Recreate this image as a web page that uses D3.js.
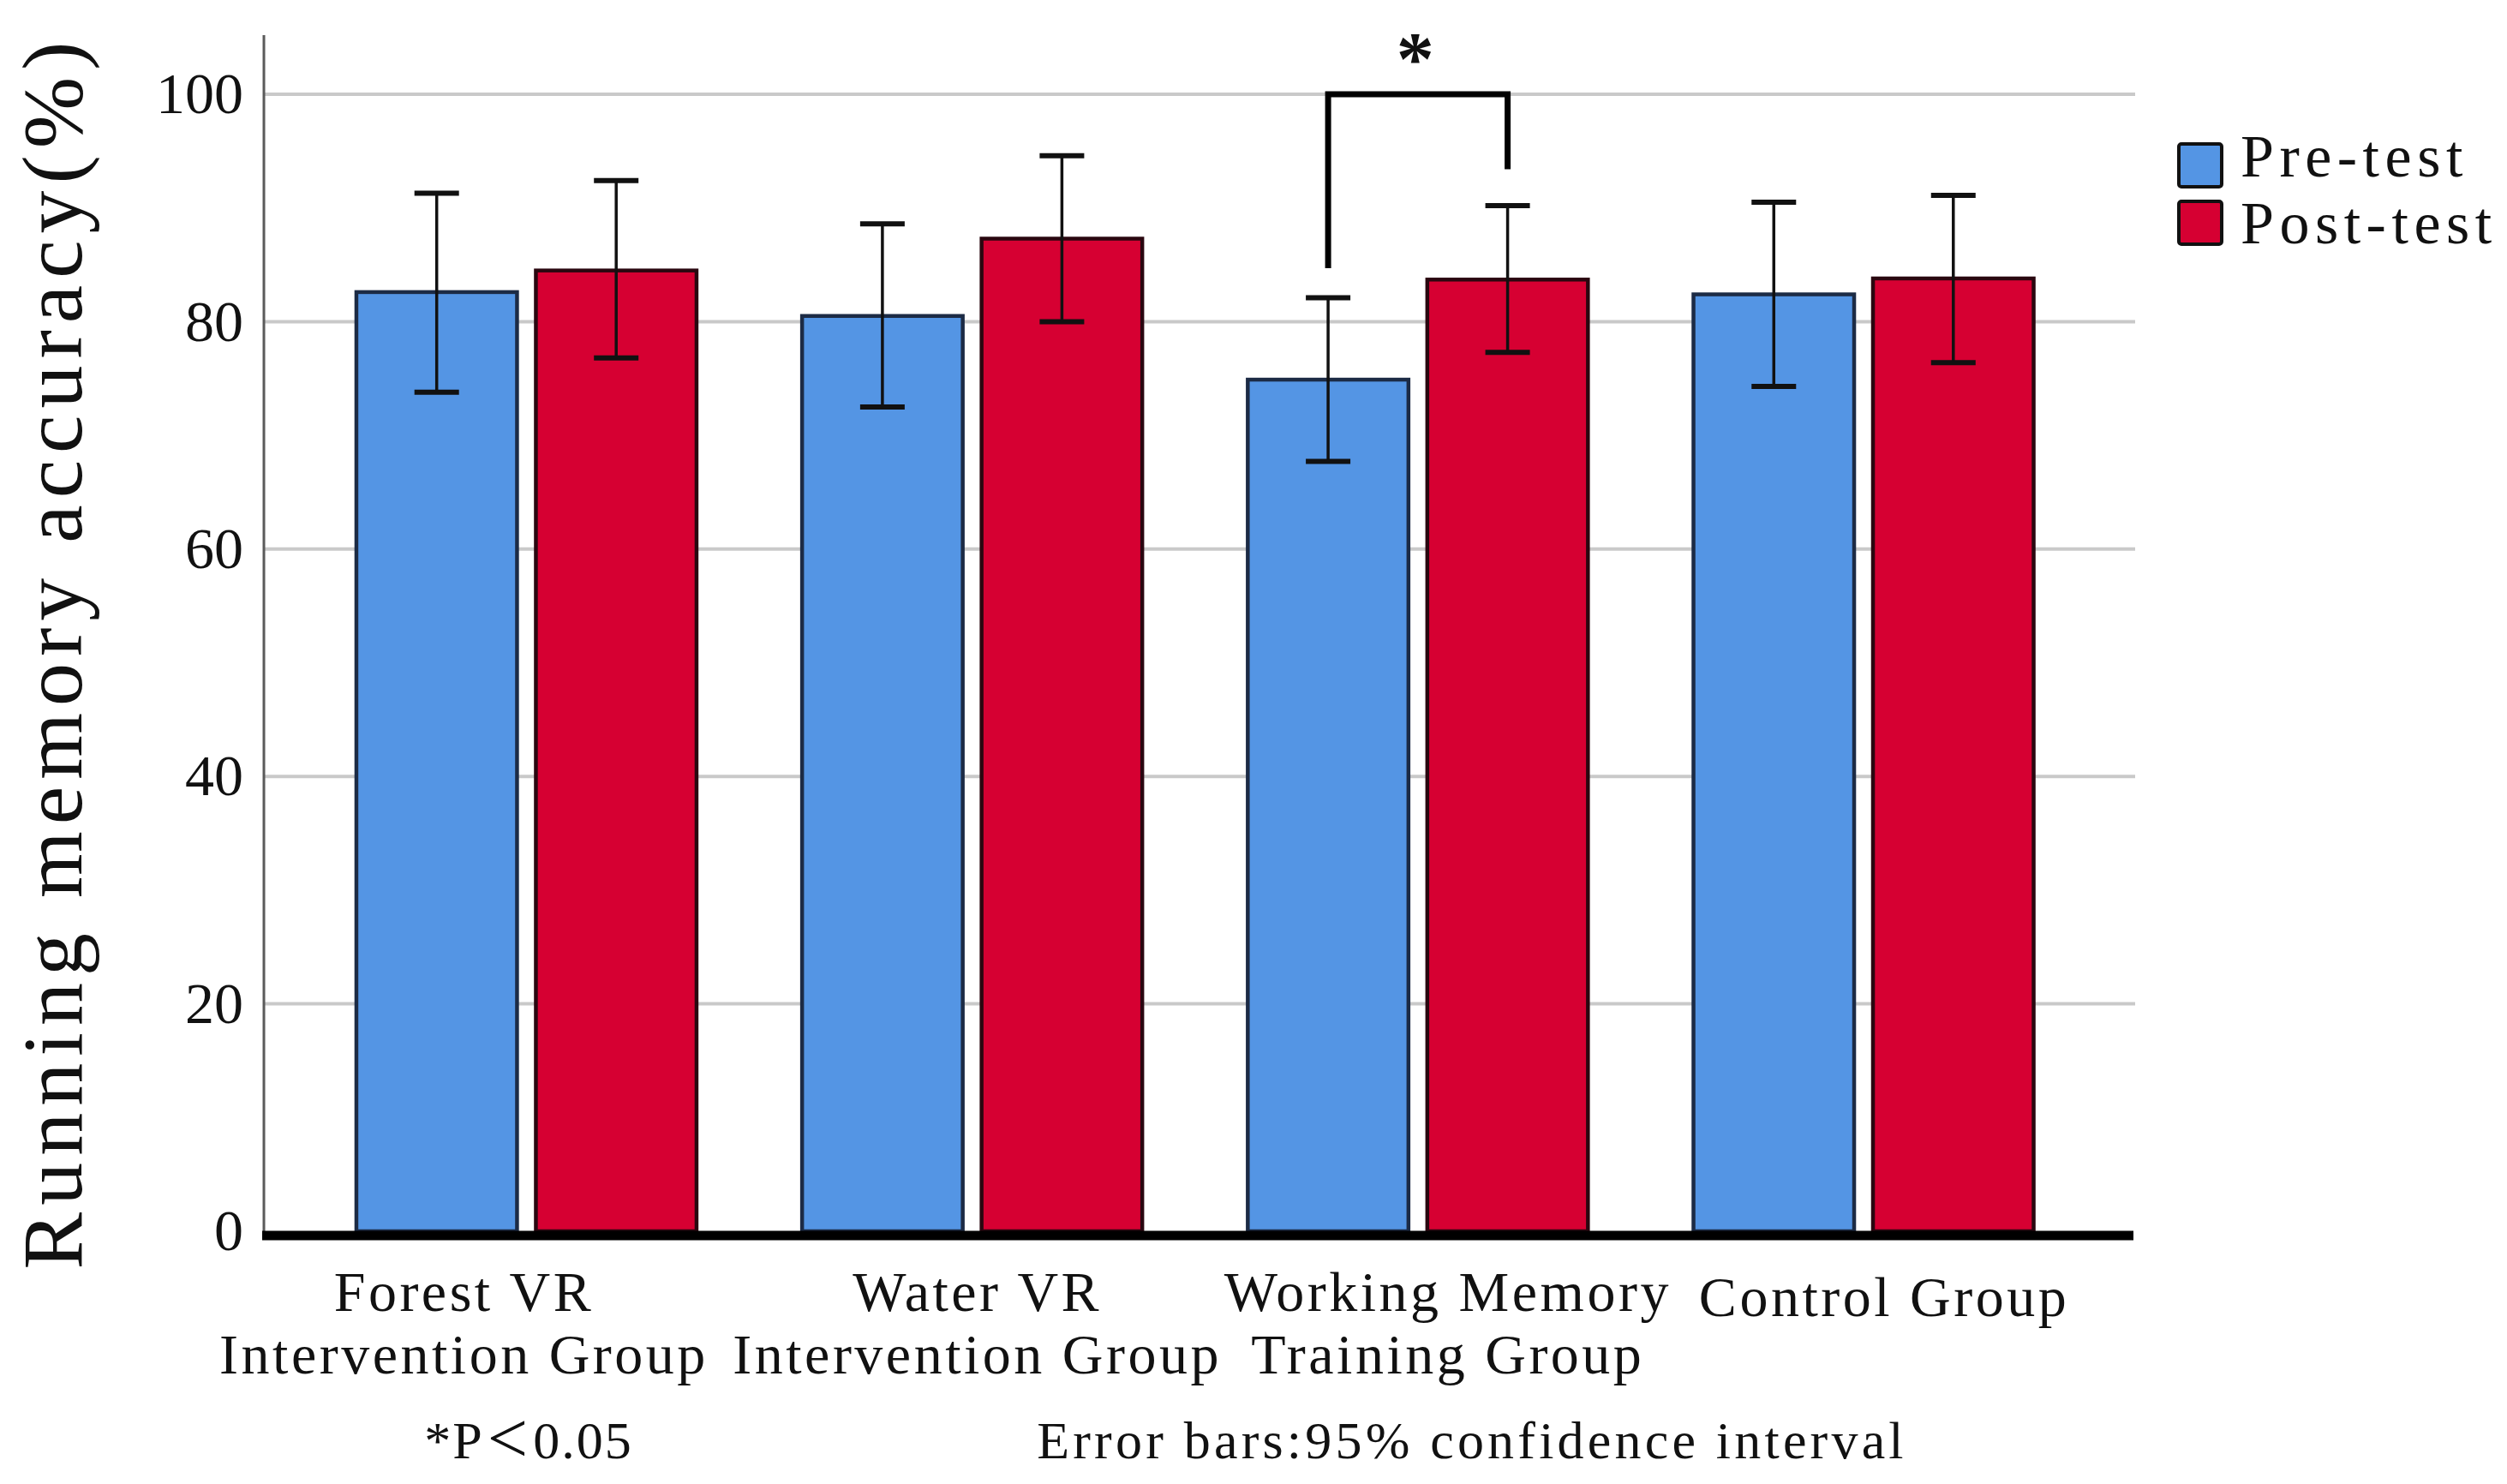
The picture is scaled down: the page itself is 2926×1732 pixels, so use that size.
<!DOCTYPE html>
<html>
<head>
<meta charset="utf-8">
<script src="https://cdn.jsdelivr.net/npm/d3@7/dist/d3.min.js"></script>
<style>
  html, body { margin: 0; padding: 0; background: #ffffff; }
  svg { display: block; }
  text { font-family: "Liberation Serif", "DejaVu Serif", serif; fill: #111; }
</style>
</head>
<body>
<svg id="chart" width="2926" height="1732"></svg>
<script>
// ---- data ----
const categories = ["Forest VR Intervention Group", "Water VR Intervention Group", "Working Memory Training Group", "Control Group"];
const categoryLines = [["Forest VR", "Intervention Group"], ["Water VR", "Intervention Group"], ["Working Memory", "Training Group"], ["Control Group"]];
const seriesNames = ["Pre-test", "Post-test"];
const preMeans  = [82.6, 80.5, 74.9, 82.4];
const postMeans = [84.5, 87.3, 83.7, 83.8];
const preLower  = [73.8, 72.5, 67.7, 74.3];
const preUpper  = [91.3, 88.6, 82.1, 90.5];
const postLower = [76.8, 80.0, 77.3, 76.4];
const postUpper = [92.4, 94.6, 90.2, 91.1];
const yTicks = [0, 20, 40, 60, 80, 100];
const sigPair = { category: "Working Memory Training Group", top: 100, leftEnd: 84.7, rightEnd: 93.4, label: "*" };
const footnoteLeft = ["*P", "<", "0.05"];
const footnoteRight = "Error bars:95% confidence interval";
const yTitle = "Running memory accuracy(%)";

// ---- layout ----
const colors = { "Pre-test": "#5495E4", "Post-test": "#D60032" };
const strokes = { "Pre-test": "#1c2b45", "Post-test": "#2a0710" };
const plot = { left: 308, right: 2490, top: 41, bottom: 1437 };

const svg = d3.select("#chart");

const x = d3.scaleBand().domain(categories).range([plot.left, plot.right])
  .paddingInner(0.2368).paddingOuter(0.2157).align(0.481);
const xs = d3.scaleBand().domain(seriesNames).range([0, x.bandwidth()]).paddingInner(0.105);
const y = d3.scaleLinear().domain([0, 100]).range([plot.bottom, 110]);

const rows = [];
categories.forEach((c, i) => {
  rows.push({ cat: c, s: "Pre-test", v: preMeans[i], lo: preLower[i], hi: preUpper[i] });
  rows.push({ cat: c, s: "Post-test", v: postMeans[i], lo: postLower[i], hi: postUpper[i] });
});

// gridlines
svg.append("g").selectAll("line").data(yTicks.filter(t => t > 0)).join("line")
  .attr("x1", plot.left).attr("x2", plot.right + 2)
  .attr("y1", d => y(d)).attr("y2", d => y(d))
  .attr("stroke", "#c9c9c9").attr("stroke-width", 4);

// y axis
const yAxis = d3.axisLeft(y).tickValues(yTicks).tickSize(0).tickPadding(24);
const yg = svg.append("g").attr("transform", `translate(${plot.left},0)`).call(yAxis);
yg.select(".domain").remove();
yg.selectAll("text").attr("font-size", 68).attr("font-family", "Liberation Serif").attr("fill", "#111");
svg.append("line").attr("x1", plot.left).attr("x2", plot.left).attr("y1", plot.top).attr("y2", plot.bottom)
  .attr("stroke", "#5a5a5a").attr("stroke-width", 3);

// bars
svg.append("g").selectAll("rect").data(rows).join("rect")
  .attr("x", d => x(d.cat) + xs(d.s))
  .attr("y", d => y(d.v))
  .attr("width", xs.bandwidth())
  .attr("height", d => y(0) - y(d.v))
  .attr("fill", d => colors[d.s])
  .attr("stroke", d => strokes[d.s]).attr("stroke-width", 4.5);

// error bars
const eb = svg.append("g").attr("stroke", "#111");
const cx = d => x(d.cat) + xs(d.s) + xs.bandwidth() / 2;
eb.selectAll("line.v").data(rows).join("line").attr("class", "v")
  .attr("x1", cx).attr("x2", cx).attr("y1", d => y(d.lo)).attr("y2", d => y(d.hi)).attr("stroke-width", 3.5);
eb.selectAll("line.t").data(rows).join("line").attr("class", "t")
  .attr("x1", d => cx(d) - 26).attr("x2", d => cx(d) + 26).attr("y1", d => y(d.hi)).attr("y2", d => y(d.hi)).attr("stroke-width", 6);
eb.selectAll("line.b").data(rows).join("line").attr("class", "b")
  .attr("x1", d => cx(d) - 26).attr("x2", d => cx(d) + 26).attr("y1", d => y(d.lo)).attr("y2", d => y(d.lo)).attr("stroke-width", 6);

// x axis thick baseline
svg.append("line").attr("x1", plot.left - 2).attr("x2", plot.right).attr("y1", plot.bottom + 5).attr("y2", plot.bottom + 5)
  .attr("stroke", "#000").attr("stroke-width", 11);

// x labels
const labelOffsets = [-73, 6, 35, 24];
const xl = svg.append("g");
categories.forEach((c, i) => {
  const lines = categoryLines[i];
  const cxp = x(c) + x.bandwidth() / 2 + labelOffsets[i];
  const t = xl.append("text").attr("text-anchor", "middle").attr("font-size", 66).attr("letter-spacing", 3.5)
    .attr("x", cxp).attr("y", lines.length === 1 ? 1536 : 1530);
  lines.forEach((ln, j) => t.append("tspan").attr("x", cxp).attr("dy", j === 0 ? 0 : 73).text(ln));
});

// y title
svg.append("text").attr("text-anchor", "middle").attr("font-size", 100).attr("letter-spacing", 8)
  .attr("transform", `translate(95,761) rotate(-90)`)
  .text(yTitle);

// significance bracket
const bx1 = x(sigPair.category) + xs("Pre-test") + xs.bandwidth() / 2;
const bx2 = x(sigPair.category) + xs("Post-test") + xs.bandwidth() / 2;
svg.append("path")
  .attr("d", `M${bx1},${y(sigPair.leftEnd)} V${y(sigPair.top)} H${bx2} V${y(sigPair.rightEnd)}`)
  .attr("fill", "none").attr("stroke", "#000").attr("stroke-width", 7);
svg.append("text").attr("text-anchor", "middle").attr("font-size", 88).attr("font-weight", "bold")
  .attr("font-family", "Liberation Sans")
  .attr("x", (bx1 + bx2) / 2 - 3).attr("y", y(sigPair.top) - 12).text(sigPair.label);

// legend
const lg = svg.append("g").attr("transform", "translate(2543,168)");
seriesNames.forEach((s, i) => {
  lg.append("rect").attr("x", 0).attr("y", i * 67).attr("width", 50).attr("height", 50).attr("rx", 3)
    .attr("fill", colors[s]).attr("stroke", "#111").attr("stroke-width", 4);
  lg.append("text").attr("x", 72).attr("y", 38 + i * 78).attr("font-size", 70).attr("letter-spacing", 6.5).text(s);
});

// footnotes
const fl = svg.append("text").attr("text-anchor", "middle").attr("font-size", 62).attr("letter-spacing", 2)
  .attr("x", 617).attr("y", 1702);
fl.append("tspan").text(footnoteLeft[0]);
fl.append("tspan").attr("font-size", 84).attr("dx", 4).attr("dy", 5).text(footnoteLeft[1]);
fl.append("tspan").attr("dx", 4).attr("dy", -5).text(footnoteLeft[2]);
svg.append("text").attr("text-anchor", "middle").attr("font-size", 62).attr("letter-spacing", 4.2)
  .attr("x", 1718).attr("y", 1702).text(footnoteRight);
</script>
</body>
</html>
